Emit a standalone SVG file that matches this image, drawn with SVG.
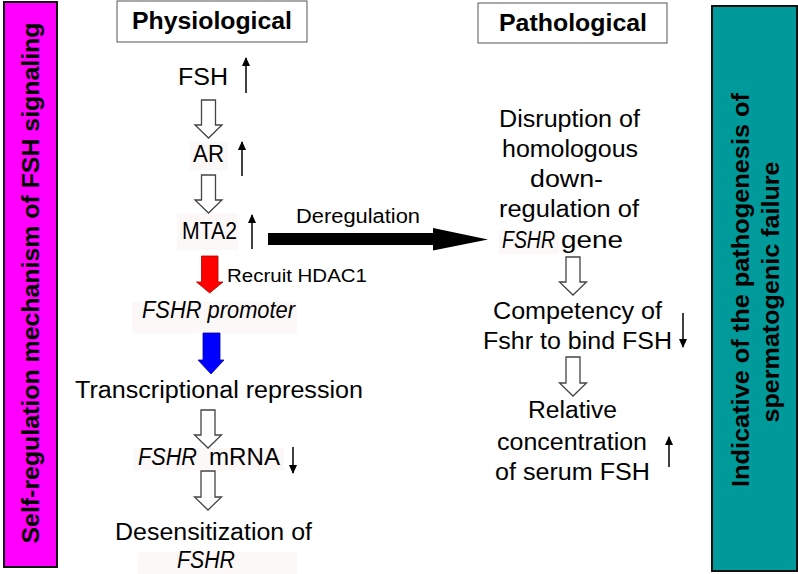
<svg xmlns="http://www.w3.org/2000/svg" width="798" height="574" viewBox="0 0 798 574">
<defs>
<style>
text{font-family:"Liberation Sans",Arial,sans-serif;fill:#000;}
.t{font-size:23px;text-anchor:middle;}
.i{font-style:italic;}
.b{font-weight:bold;}
.hollow{fill:#fff;stroke:#444;stroke-width:1.3;stroke-linejoin:miter;}
.thin{stroke:#000;stroke-width:1.5;fill:none;marker-end:url(#ah);}
.bg{fill:#fdf8f8;}
</style>
<marker id="ah" markerUnits="userSpaceOnUse" markerWidth="9" markerHeight="11" refX="9" refY="4.5" orient="auto" viewBox="0 0 10 9">
<path d="M0,0 L10,4.5 L0,9 Z" fill="#000"/>
</marker>
</defs>
<rect width="798" height="574" fill="#fff"/>

<g id="left-panel">
<rect x="4" y="2" width="53" height="565" fill="#ff00ff" stroke="#111" stroke-width="2"/>
<text class="b" font-size="23" text-anchor="middle" transform="translate(39,283) rotate(-90)" textLength="521" lengthAdjust="spacingAndGlyphs">Self-regulation mechanism of FSH signaling</text>
</g>

<g id="right-panel">
<rect x="712" y="6" width="85" height="565" fill="#009a9a" stroke="#111" stroke-width="2"/>
<text class="b" font-size="23" text-anchor="middle" transform="translate(749,290) rotate(-90)" textLength="394" lengthAdjust="spacingAndGlyphs">Indicative of the pathogenesis of</text>
<text class="b" font-size="23" text-anchor="middle" transform="translate(779,292) rotate(-90)" textLength="261" lengthAdjust="spacingAndGlyphs">spermatogenic failure</text>
</g>

<g id="physiological">
<rect x="117" y="1" width="190" height="41" fill="#fff" stroke="#555" stroke-width="1"/>
<text class="t b" x="212" y="29" textLength="160" lengthAdjust="spacingAndGlyphs">Physiological</text>
</g>

<g id="pathological">
<rect x="478" y="3" width="189" height="40" fill="#fff" stroke="#555" stroke-width="1"/>
<text class="t b" x="573" y="31" textLength="148" lengthAdjust="spacingAndGlyphs">Pathological</text>
</g>

<g id="fsh">
<text class="t" x="203" y="85" textLength="50" lengthAdjust="spacingAndGlyphs">FSH</text>
</g>
<g id="ar">
<rect class="bg" x="190" y="142" width="38" height="28"/>
<text class="t" x="208.5" y="162" textLength="31" lengthAdjust="spacingAndGlyphs">AR</text>
</g>
<g id="mta2">
<rect class="bg" x="177" y="213" width="61" height="37"/>
<text class="t" x="209.5" y="239" textLength="55" lengthAdjust="spacingAndGlyphs">MTA2</text>
</g>
<g id="fshr-promoter">
<rect class="bg" x="132" y="302" width="165" height="31"/>
<text class="t i" x="218.5" y="318" textLength="153" lengthAdjust="spacingAndGlyphs">FSHR promoter</text>
</g>
<g id="transcriptional-repression">
<text class="t" x="219" y="398" textLength="288" lengthAdjust="spacingAndGlyphs">Transcriptional repression</text>
</g>
<g id="fshr-mrna">
<rect class="bg" x="134" y="448" width="150" height="22"/>
<text class="i" font-size="23" x="138" y="465" textLength="59" lengthAdjust="spacingAndGlyphs">FSHR</text>
<text font-size="23" x="209" y="465" textLength="71" lengthAdjust="spacingAndGlyphs">mRNA</text>
</g>
<g id="desensitization">
<rect class="bg" x="138" y="552" width="159" height="22"/>
<text class="t" x="213.5" y="540" textLength="197" lengthAdjust="spacingAndGlyphs">Desensitization of</text>
<text class="t i" x="206" y="568" textLength="58" lengthAdjust="spacingAndGlyphs">FSHR</text>
</g>

<g id="disruption">
<text class="t" x="569.5" y="127" textLength="141" lengthAdjust="spacingAndGlyphs">Disruption of</text>
<text class="t" x="570" y="157" textLength="136" lengthAdjust="spacingAndGlyphs">homologous</text>
<text class="t" x="566.5" y="187" textLength="73" lengthAdjust="spacingAndGlyphs">down-</text>
<text class="t" x="569" y="217" textLength="140" lengthAdjust="spacingAndGlyphs">regulation of</text>
<rect class="bg" x="499" y="230" width="60" height="24"/>
<text class="i" font-size="23" x="502" y="248" textLength="53" lengthAdjust="spacingAndGlyphs">FSHR</text>
<text font-size="23" x="561" y="248" textLength="62" lengthAdjust="spacingAndGlyphs">gene</text>
</g>
<g id="competency">
<text class="t" x="577.5" y="319" textLength="169" lengthAdjust="spacingAndGlyphs">Competency of</text>
<text class="t" x="577.5" y="349" textLength="189" lengthAdjust="spacingAndGlyphs">Fshr to bind FSH</text>
</g>
<g id="relative-concentration">
<text class="t" x="572.5" y="418" textLength="89" lengthAdjust="spacingAndGlyphs">Relative</text>
<text class="t" x="572" y="450" textLength="150" lengthAdjust="spacingAndGlyphs">concentration</text>
<text class="t" x="572.5" y="480" textLength="155" lengthAdjust="spacingAndGlyphs">of serum FSH</text>
</g>

<g id="connectors">
<path class="hollow" d="M201.5,100 H215.5 V125 H222 L208.5,138 L195,125 H201.5 Z"/>
<path class="hollow" d="M201.5,175 H215.5 V200 H222 L208.5,213 L195,200 H201.5 Z"/>
<path class="hollow" d="M201,410 H215 V435 H221.5 L208,448 L194.5,435 H201 Z"/>
<path class="hollow" d="M201,471 H215 V497 H221.5 L208,510 L194.5,497 H201 Z"/>
<path class="hollow" d="M566,257 H580 V282 H586.5 L573,295 L559.5,282 H566 Z"/>
<path class="hollow" d="M566,357 H580 V383 H586.5 L573,396 L559.5,383 H566 Z"/>
<path d="M201.5,256 H218 V282 H223 L209.7,293 L196.5,282 H201.5 Z" fill="#ff0000" stroke="#b00000" stroke-width="0.8"/>
<path d="M203,333 H220 V360 H224 L211,374 L198,360 H203 Z" fill="#0000ff" stroke="#0000a0" stroke-width="0.8"/>
<path d="M268,233 H433 V228 L488,239.5 L433,250.5 V245 H268 Z" fill="#000"/>
<text font-size="20" x="296" y="223" textLength="124" lengthAdjust="spacingAndGlyphs">Deregulation</text>
<text font-size="19" x="227" y="282" textLength="140" lengthAdjust="spacingAndGlyphs">Recruit HDAC1</text>
<line class="thin" x1="246" y1="93" x2="246" y2="58"/>
<line class="thin" x1="242" y1="176" x2="242" y2="142"/>
<line class="thin" x1="252" y1="249" x2="252" y2="215"/>
<line class="thin" x1="293" y1="447" x2="293" y2="473"/>
<line class="thin" x1="683" y1="313" x2="683" y2="347"/>
<line class="thin" x1="669" y1="467" x2="669" y2="437"/>
</g>
</svg>
